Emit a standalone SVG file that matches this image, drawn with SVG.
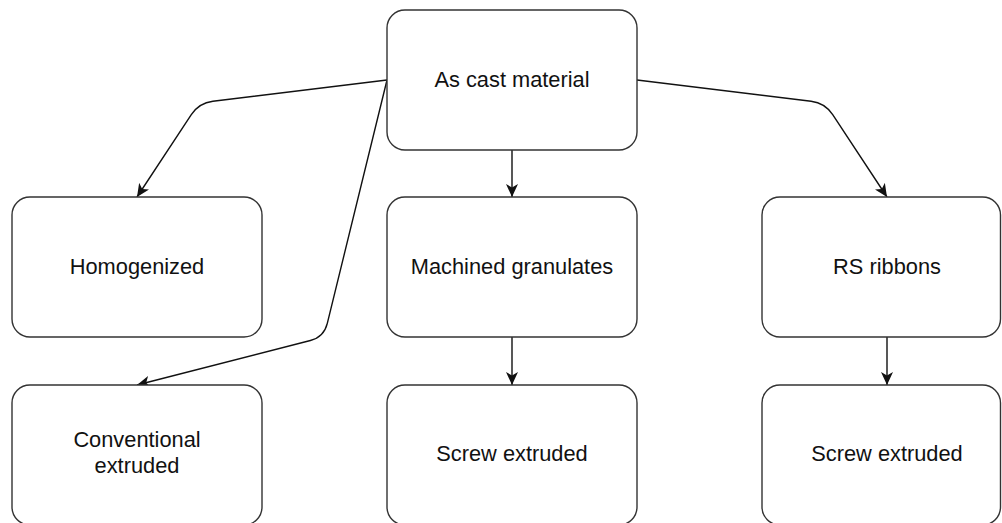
<svg xmlns="http://www.w3.org/2000/svg" width="1002" height="523" viewBox="0 0 1002 523">
  <style>
    .box { fill: #ffffff; stroke: #333333; stroke-width: 1.4; }
    .lbl { font-family: "Liberation Sans", Arial, sans-serif; font-size: 21.8px; fill: #111111; text-anchor: middle; }
    .edge { fill: none; stroke: #111111; stroke-width: 1.4; marker-end: url(#arrow); }
  </style>
  <defs>
    <marker id="arrow" markerUnits="userSpaceOnUse" viewBox="0 0 13 12" refX="13" refY="6" markerWidth="13" markerHeight="12" orient="auto">
      <path d="M0,0 L13,6 L0,12 L3.5,6 z" fill="#111111"/>
    </marker>
  </defs>
  <rect width="1002" height="523" fill="#ffffff"/>

  <g id="connectors">
    <path class="edge" d="M387,80 L212.9,101.3 Q199,103 191.3,114.7 L137,197"/>
    <path class="edge" d="M637,80 L811.1,101.3 Q825,103 832.7,114.7 L887,197"/>
    <path class="edge" d="M387,80 L327.3,323.4 Q324,337 310.4,340.5 L137,385"/>
    <path class="edge" d="M512,150 L512,197"/>
    <path class="edge" d="M512,337 L512,385"/>
    <path class="edge" d="M887,337 L887,385"/>
  </g>

  <g id="as-cast">
    <rect class="box" x="387" y="10" width="250" height="140" rx="18"/>
    <text class="lbl" x="512" y="87">As cast material</text>
  </g>
  <g id="homogenized">
    <rect class="box" x="12" y="197" width="250" height="140" rx="18"/>
    <text class="lbl" x="137" y="274">Homogenized</text>
  </g>
  <g id="machined">
    <rect class="box" x="387" y="197" width="250" height="140" rx="18"/>
    <text class="lbl" x="512" y="274">Machined granulates</text>
  </g>
  <g id="rs-ribbons">
    <rect class="box" x="762" y="197" width="238.5" height="140" rx="18"/>
    <text class="lbl" x="887" y="274">RS ribbons</text>
  </g>
  <g id="conventional">
    <rect class="box" x="12" y="385" width="250" height="140" rx="18"/>
    <text class="lbl" x="137" y="447">Conventional</text>
    <text class="lbl" x="137" y="473">extruded</text>
  </g>
  <g id="screw-machined">
    <rect class="box" x="387" y="385" width="250" height="140" rx="18"/>
    <text class="lbl" x="512" y="461">Screw extruded</text>
  </g>
  <g id="screw-rs">
    <rect class="box" x="762" y="385" width="238.5" height="140" rx="18"/>
    <text class="lbl" x="887" y="461">Screw extruded</text>
  </g>
</svg>
